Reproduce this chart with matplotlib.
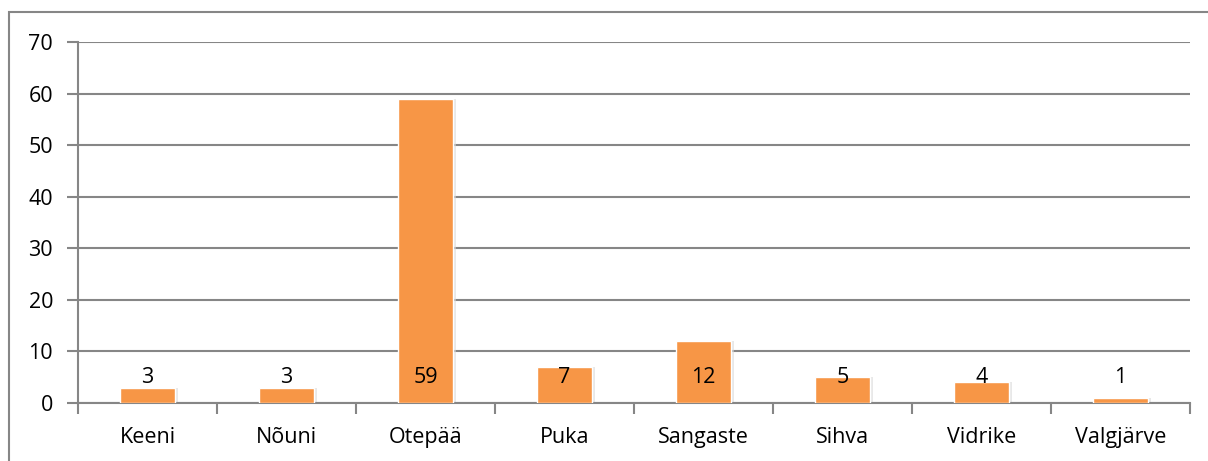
import matplotlib.pyplot as plt
from matplotlib.patches import Rectangle

categories = ['Keeni', 'Nõuni', 'Otepää', 'Puka', 'Sangaste', 'Sihva', 'Vidrike', 'Valgjärve']
values = [3, 3, 59, 7, 12, 5, 4, 1]

plt.rcParams['font.family'] = ['Open Sans', 'DejaVu Sans']

W, H = 1208, 461
fig = plt.figure(figsize=(W / 100, H / 100), dpi=100)

# outer chart border (right/bottom run off the picture)
fig.patches.append(Rectangle((9 / W, -0.05), 1.2, 1 - 12 / H + 0.05, transform=fig.transFigure,
                             fill=False, edgecolor='#868686', linewidth=1.5))

left, right, top, bottom = 78, 1190, 42, 403
ax = fig.add_axes([left / W, 1 - bottom / H, (right - left) / W, (bottom - top) / H])

grid_c = '#868686'
fs = 15.5
x = range(len(categories))
# soft shadow behind bars
ax.bar([i + 0.02 for i in x], values, width=0.4, color='#d9d9d9', zorder=2, alpha=0.6)
ax.bar(x, values, width=0.4, color='#F79646', edgecolor='white', linewidth=1, zorder=3)

for i, v in enumerate(values):
    ax.text(i, 5, str(v), ha='center', va='center', fontsize=fs, color='black', zorder=4)

ax.set_xlim(-0.5, len(categories) - 0.5)
ax.set_ylim(0, 70)
ax.set_yticks(range(0, 71, 10))
ax.yaxis.grid(True, color=grid_c, linewidth=1.5, zorder=0)
ax.set_axisbelow(True)

ax.set_xticks([i - 0.5 for i in range(len(categories) + 1)], minor=False)
ax.set_xticklabels([])
ax.set_xticks(list(x), minor=True)
ax.set_xticklabels(categories, minor=True, fontsize=fs)
ax.tick_params(axis='x', which='major', length=8, width=1.5, color=grid_c, direction='out')
ax.tick_params(axis='x', which='minor', length=0, pad=17)
ax.tick_params(axis='y', length=8, width=1.5, color=grid_c, labelsize=fs, pad=10)

for s in ['top', 'right']:
    ax.spines[s].set_visible(False)
for s in ['left', 'bottom']:
    ax.spines[s].set_color(grid_c)
    ax.spines[s].set_linewidth(1.5)

fig.savefig('out.png', dpi=100)
